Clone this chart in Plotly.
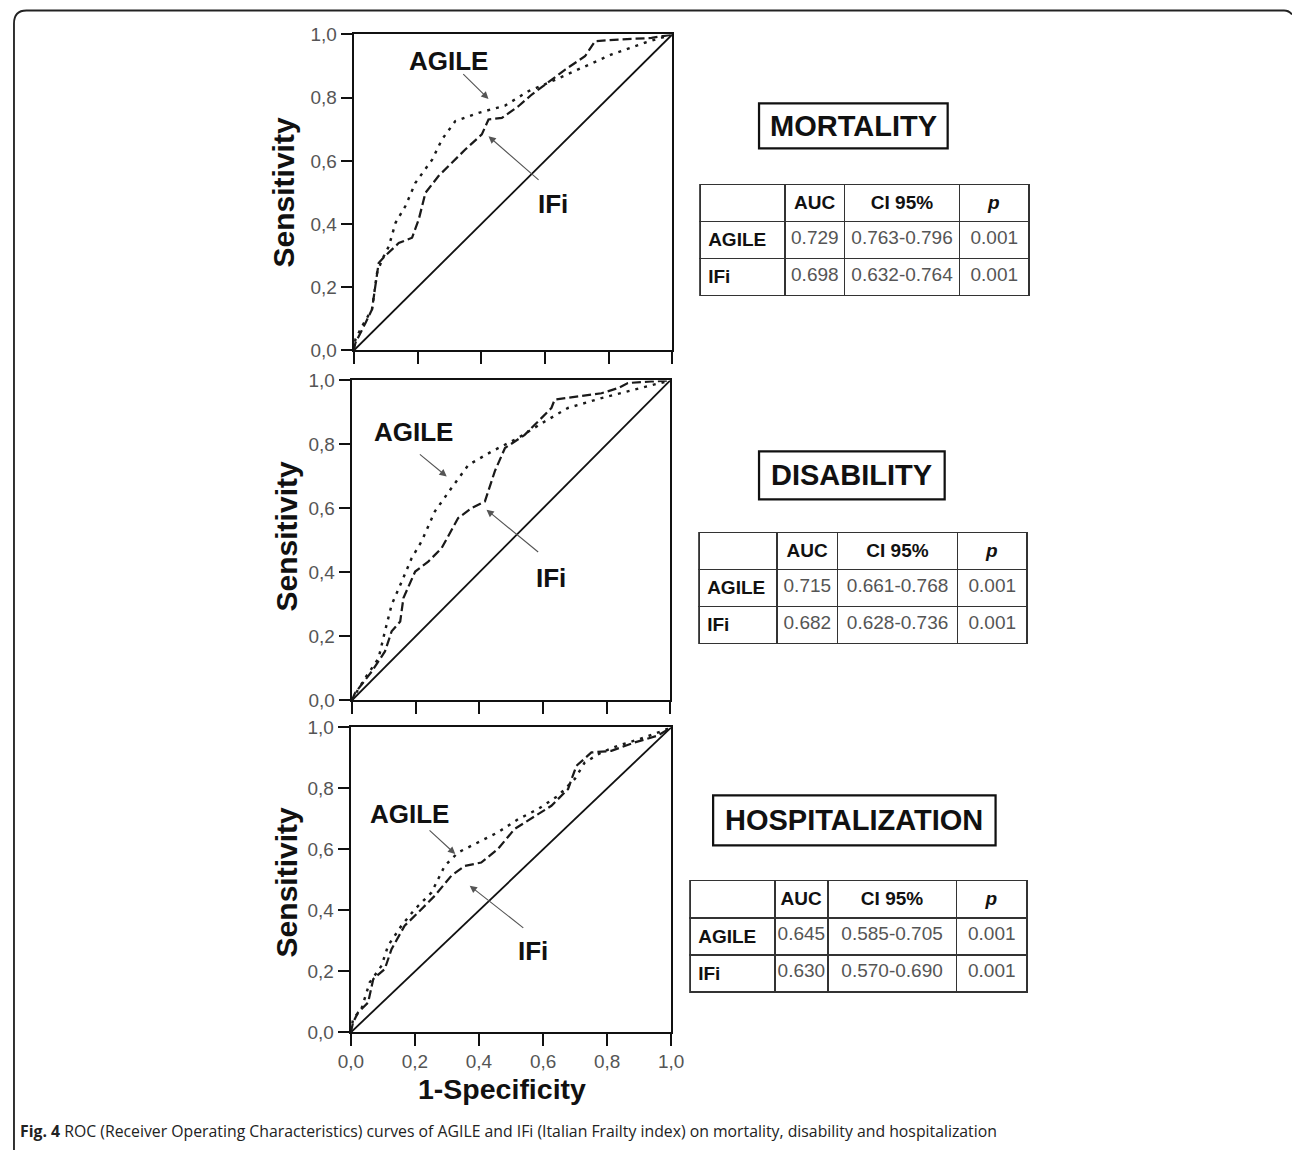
import plotly.graph_objects as go

# The page is photographed with a small zoom (S) and offset (O); compensate for it
S, O = 0.982, 10.5
IMG_W, IMG_H = 1292, 1151
W = round((IMG_W - O) / S)
H = round((IMG_H - O) / S)

# ---------------- data ----------------
tick_vals = [0.0, 0.2, 0.4, 0.6, 0.8, 1.0]
tick_text = ["0,0", "0,2", "0,4", "0,6", "0,8", "1,0"]

outcomes = ["MORTALITY", "DISABILITY", "HOSPITALIZATION"]

# Mortality
mort_agile_x = [0, 0.005, 0.026, 0.057, 0.073, 0.089, 0.11, 0.131, 0.162, 0.193, 0.246, 0.277, 0.319, 0.392, 0.475, 0.549, 0.622, 0.705, 0.81, 0.914, 1.0]
mort_agile_y = [0, 0.035, 0.077, 0.13, 0.246, 0.288, 0.33, 0.404, 0.457, 0.53, 0.604, 0.668, 0.726, 0.752, 0.775, 0.821, 0.852, 0.889, 0.937, 0.974, 1.0]
mort_ifi_x = [0, 0.005, 0.037, 0.057, 0.078, 0.099, 0.141, 0.183, 0.204, 0.225, 0.266, 0.308, 0.35, 0.402, 0.423, 0.465, 0.517, 0.559, 0.601, 0.664, 0.726, 0.758, 0.831, 0.935, 1.0]
mort_ifi_y = [0, 0.024, 0.088, 0.13, 0.277, 0.3, 0.34, 0.357, 0.415, 0.499, 0.552, 0.594, 0.636, 0.684, 0.731, 0.736, 0.773, 0.81, 0.842, 0.889, 0.931, 0.979, 0.984, 0.989, 1.0]

# Disability
dis_agile_x = [0, 0.01, 0.042, 0.084, 0.104, 0.125, 0.157, 0.188, 0.219, 0.261, 0.313, 0.366, 0.439, 0.522, 0.606, 0.679, 0.784, 0.888, 1.0]
dis_agile_y = [0, 0.018, 0.07, 0.132, 0.216, 0.299, 0.372, 0.445, 0.497, 0.591, 0.664, 0.736, 0.778, 0.82, 0.872, 0.914, 0.945, 0.971, 1.0]
dis_ifi_x = [0, 0.01, 0.063, 0.104, 0.125, 0.152, 0.162, 0.199, 0.24, 0.282, 0.334, 0.376, 0.418, 0.449, 0.481, 0.543, 0.585, 0.627, 0.637, 0.711, 0.784, 0.836, 0.867, 0.94, 1.0]
dis_ifi_y = [0, 0.023, 0.091, 0.153, 0.216, 0.247, 0.32, 0.403, 0.434, 0.476, 0.57, 0.601, 0.622, 0.716, 0.789, 0.83, 0.872, 0.914, 0.94, 0.95, 0.96, 0.976, 0.992, 0.997, 1.0]

# Hospitalization
hosp_agile_x = [0, 0.007, 0.033, 0.059, 0.096, 0.116, 0.158, 0.2, 0.252, 0.293, 0.335, 0.397, 0.459, 0.522, 0.584, 0.647, 0.699, 0.73, 0.782, 0.834, 0.917, 1.0]
hosp_agile_y = [0, 0.044, 0.077, 0.164, 0.219, 0.284, 0.35, 0.404, 0.459, 0.546, 0.59, 0.623, 0.656, 0.699, 0.732, 0.776, 0.831, 0.885, 0.918, 0.94, 0.967, 1.0]
hosp_ifi_x = [0, 0.007, 0.023, 0.054, 0.07, 0.106, 0.127, 0.168, 0.21, 0.262, 0.314, 0.356, 0.407, 0.459, 0.511, 0.574, 0.626, 0.678, 0.704, 0.751, 0.813, 0.886, 0.958, 1.0]
hosp_ifi_y = [0, 0.033, 0.066, 0.098, 0.175, 0.208, 0.273, 0.35, 0.393, 0.448, 0.514, 0.546, 0.557, 0.601, 0.667, 0.71, 0.743, 0.798, 0.874, 0.918, 0.923, 0.951, 0.973, 1.0]

ref_x = [0, 1]
ref_y = [0, 1]

table_header = ["", "AUC", "CI 95%", "p"]
table_rows = ["AGILE", "IFi"]
mort_auc = ["0.729", "0.698"]
mort_ci = ["0.763-0.796", "0.632-0.764"]
mort_p = ["0.001", "0.001"]
dis_auc = ["0.715", "0.682"]
dis_ci = ["0.661-0.768", "0.628-0.736"]
dis_p = ["0.001", "0.001"]
hosp_auc = ["0.645", "0.630"]
hosp_ci = ["0.585-0.705", "0.570-0.690"]
hosp_p = ["0.001", "0.001"]

caption_bold = "Fig. 4"
caption_text = ("ROC (Receiver Operating Characteristics) curves of AGILE and IFi "
                "(Italian Frailty index) on mortality, disability and hospitalization")

# ---------------- helpers (target image pixel -> paper fraction) ----------------
def px(x):
    return ((x - O) / S) / W

def py(y):
    return 1 - ((y - O) / S) / H

def fs(v):
    return v / S

FONT = "Arial, Liberation Sans, sans-serif"

fig = go.Figure()

panels = [
    dict(ax="", agile=(mort_agile_x, mort_agile_y), ifi=(mort_ifi_x, mort_ifi_y),
         xd=(352, 671), yd=(35, 351), ylab=(282, 193),
         agile_lab=(0.298, 0.916), agile_arrow=((0.339, 0.879), (0.423, 0.796)),
         ifi_lab=(0.627, 0.462), ifi_arrow=((0.585, 0.536), (0.423, 0.678)),
         box=(758, 104, 947, 149), table=(699, 185, 1029, 289),
         colw=[85, 60, 115, 70], hh=35, ch=34,
         auc=mort_auc, ci=mort_ci, p=mort_p),
    dict(ax="2", agile=(dis_agile_x, dis_agile_y), ifi=(dis_ifi_x, dis_ifi_y),
         xd=(350, 669), yd=(381, 701), ylab=(284, 537),
         agile_lab=(0.193, 0.84), agile_arrow=((0.209, 0.773), (0.298, 0.70)),
         ifi_lab=(0.627, 0.382), ifi_arrow=((0.59, 0.46), (0.423, 0.596)),
         box=(758, 452, 944, 500), table=(698, 533, 1027, 639),
         colw=[78, 61, 120, 70], hh=36, ch=34,
         auc=dis_auc, ci=dis_ci, p=dis_p),
    dict(ax="3", agile=(hosp_agile_x, hosp_agile_y), ifi=(hosp_ifi_x, hosp_ifi_y),
         xd=(349, 670), yd=(728, 1033), ylab=(284, 883),
         agile_lab=(0.184, 0.716), agile_arrow=((0.241, 0.667), (0.326, 0.585)),
         ifi_lab=(0.569, 0.268), ifi_arrow=((0.543, 0.339), (0.371, 0.481)),
         box=(712, 796, 995, 846), table=(689, 881, 1027, 987),
         colw=[85, 53, 129, 71], hh=37, ch=34,
         auc=hosp_auc, ci=hosp_ci, p=hosp_p),
]

annotations = []
shapes = []

for i, pn in enumerate(panels):
    xa = "x" + pn["ax"]
    ya = "y" + pn["ax"]
    fig.add_trace(go.Scatter(x=ref_x, y=ref_y, mode="lines", xaxis=xa, yaxis=ya,
                             line=dict(color="#111", width=fs(1.8)), showlegend=False,
                             hoverinfo="skip"))
    fig.add_trace(go.Scatter(x=pn["ifi"][0], y=pn["ifi"][1], mode="lines", xaxis=xa, yaxis=ya,
                             line=dict(color="#1a1a1a", width=fs(2.2), dash="9px,4px"),
                             name="IFi", showlegend=False))
    fig.add_trace(go.Scatter(x=pn["agile"][0], y=pn["agile"][1], mode="lines", xaxis=xa, yaxis=ya,
                             line=dict(color="#1a1a1a", width=fs(2.4), dash="3px,6px"),
                             name="AGILE", showlegend=False))

    last = (i == 2)
    axcommon = dict(range=[0, 1], showgrid=False, zeroline=False, showline=True,
                    linecolor="#111", linewidth=fs(2), mirror=True, ticks="outside",
                    ticklen=fs(11), tickwidth=fs(2), tickcolor="#111",
                    tickvals=tick_vals, ticktext=tick_text,
                    tickfont=dict(family=FONT, size=fs(18.6), color="#555"),
                    fixedrange=True)
    fig.update_layout(**{
        "xaxis" + pn["ax"]: dict(axcommon, domain=[px(pn["xd"][0]), px(pn["xd"][1])],
                                 anchor=ya, showticklabels=last),
        "yaxis" + pn["ax"]: dict(axcommon, domain=[py(pn["yd"][1]), py(pn["yd"][0])],
                                 anchor=xa),
    })

    annotations.append(dict(x=px(pn["ylab"][0]), y=py(pn["ylab"][1]), xref="paper", yref="paper",
                            text="<b>Sensitivity</b>", textangle=-90, showarrow=False,
                            font=dict(family=FONT, size=30, color="#111"),
                            xanchor="center", yanchor="middle"))
    annotations.append(dict(x=pn["agile_lab"][0], y=pn["agile_lab"][1], xref=xa, yref=ya,
                            text="<b>AGILE</b>", showarrow=False,
                            font=dict(family=FONT, size=26, color="#111")))
    annotations.append(dict(x=pn["ifi_lab"][0], y=pn["ifi_lab"][1], xref=xa, yref=ya,
                            text="<b>IFi</b>", showarrow=False,
                            font=dict(family=FONT, size=26, color="#111")))
    for (t, h) in (pn["agile_arrow"], pn["ifi_arrow"]):
        annotations.append(dict(x=h[0], y=h[1], ax=t[0], ay=t[1], xref=xa, yref=ya,
                                axref=xa, ayref=ya, text="", showarrow=True,
                                arrowhead=2, arrowsize=1.3, arrowwidth=fs(1.1),
                                arrowcolor="#555"))

    bx0, by0, bx1, by1 = pn["box"]
    shapes.append(dict(type="rect", xref="paper", yref="paper",
                       x0=px(bx0), x1=px(bx1), y0=py(by1), y1=py(by0),
                       line=dict(color="#111", width=fs(2.2)), fillcolor="white"))
    annotations.append(dict(x=px((bx0 + bx1) / 2), y=py((by0 + by1) / 2), xref="paper", yref="paper",
                            text="<b>" + outcomes[i] + "</b>", showarrow=False,
                            font=dict(family=FONT, size=29, color="#111"),
                            xanchor="center", yanchor="middle"))

    tx0, ty0, tx1, ty1 = pn["table"]
    hdr = ["<b>" + h + "</b>" if h != "p" else "<b><i>p</i></b>" for h in table_header]
    fig.add_trace(go.Table(
        domain=dict(x=[px(tx0), px(tx1)], y=[py(ty1) - 0.01, py(ty0)]),
        columnwidth=pn["colw"],
        header=dict(values=hdr, height=fs(pn["hh"]), align=["left", "center", "center", "center"],
                    line=dict(color="#333", width=fs(1.5)), fill=dict(color="white"),
                    font=dict(family=FONT, size=19, color="#111")),
        cells=dict(values=[["<b>" + r + "</b>" for r in table_rows], pn["auc"], pn["ci"], pn["p"]],
                   height=fs(pn["ch"]), align=["left", "center", "center", "center"],
                   line=dict(color="#333", width=fs(1.5)), fill=dict(color="white"),
                   font=dict(family=FONT, size=19, color=["#111", "#555", "#555", "#555"])),
    ))

annotations.append(dict(x=px(500), y=py(1090), xref="paper", yref="paper",
                        text="<b>1-Specificity</b>", showarrow=False,
                        font=dict(family=FONT, size=28.5, color="#111"),
                        xanchor="center", yanchor="middle"))
annotations.append(dict(x=px(16), y=py(1132), xref="paper", yref="paper",
                        text="<b>" + caption_bold + "</b> " + caption_text, showarrow=False,
                        font=dict(family="Open Sans, Noto Sans, sans-serif", size=15.8, color="#222"),
                        xanchor="left", yanchor="middle"))

# outer rounded border (left edge clamped to the figure)
def P(fx, fy):
    return f"{fx:.5f},{fy:.5f}"

lx = 1.0 / W
border = (f"M {P(lx, 0.0)} L {P(lx, py(24))} Q {P(lx, py(11))} {P(px(24), py(11))} "
          f"L {P(px(1284), py(11))} Q {P(px(1289), py(11))} {P(px(1292), py(15))}")
shapes.append(dict(type="path", xref="paper", yref="paper", path=border,
                   line=dict(color="#222", width=fs(1.8))))

fig.update_layout(width=W, height=H, autosize=False,
                  margin=dict(l=0, r=0, t=0, b=0, pad=0),
                  paper_bgcolor="white", plot_bgcolor="white",
                  annotations=annotations, shapes=shapes, showlegend=False)

fig.write_html("out.html",
               post_script="document.body.style.margin='0';",
               config={"displayModeBar": False})
